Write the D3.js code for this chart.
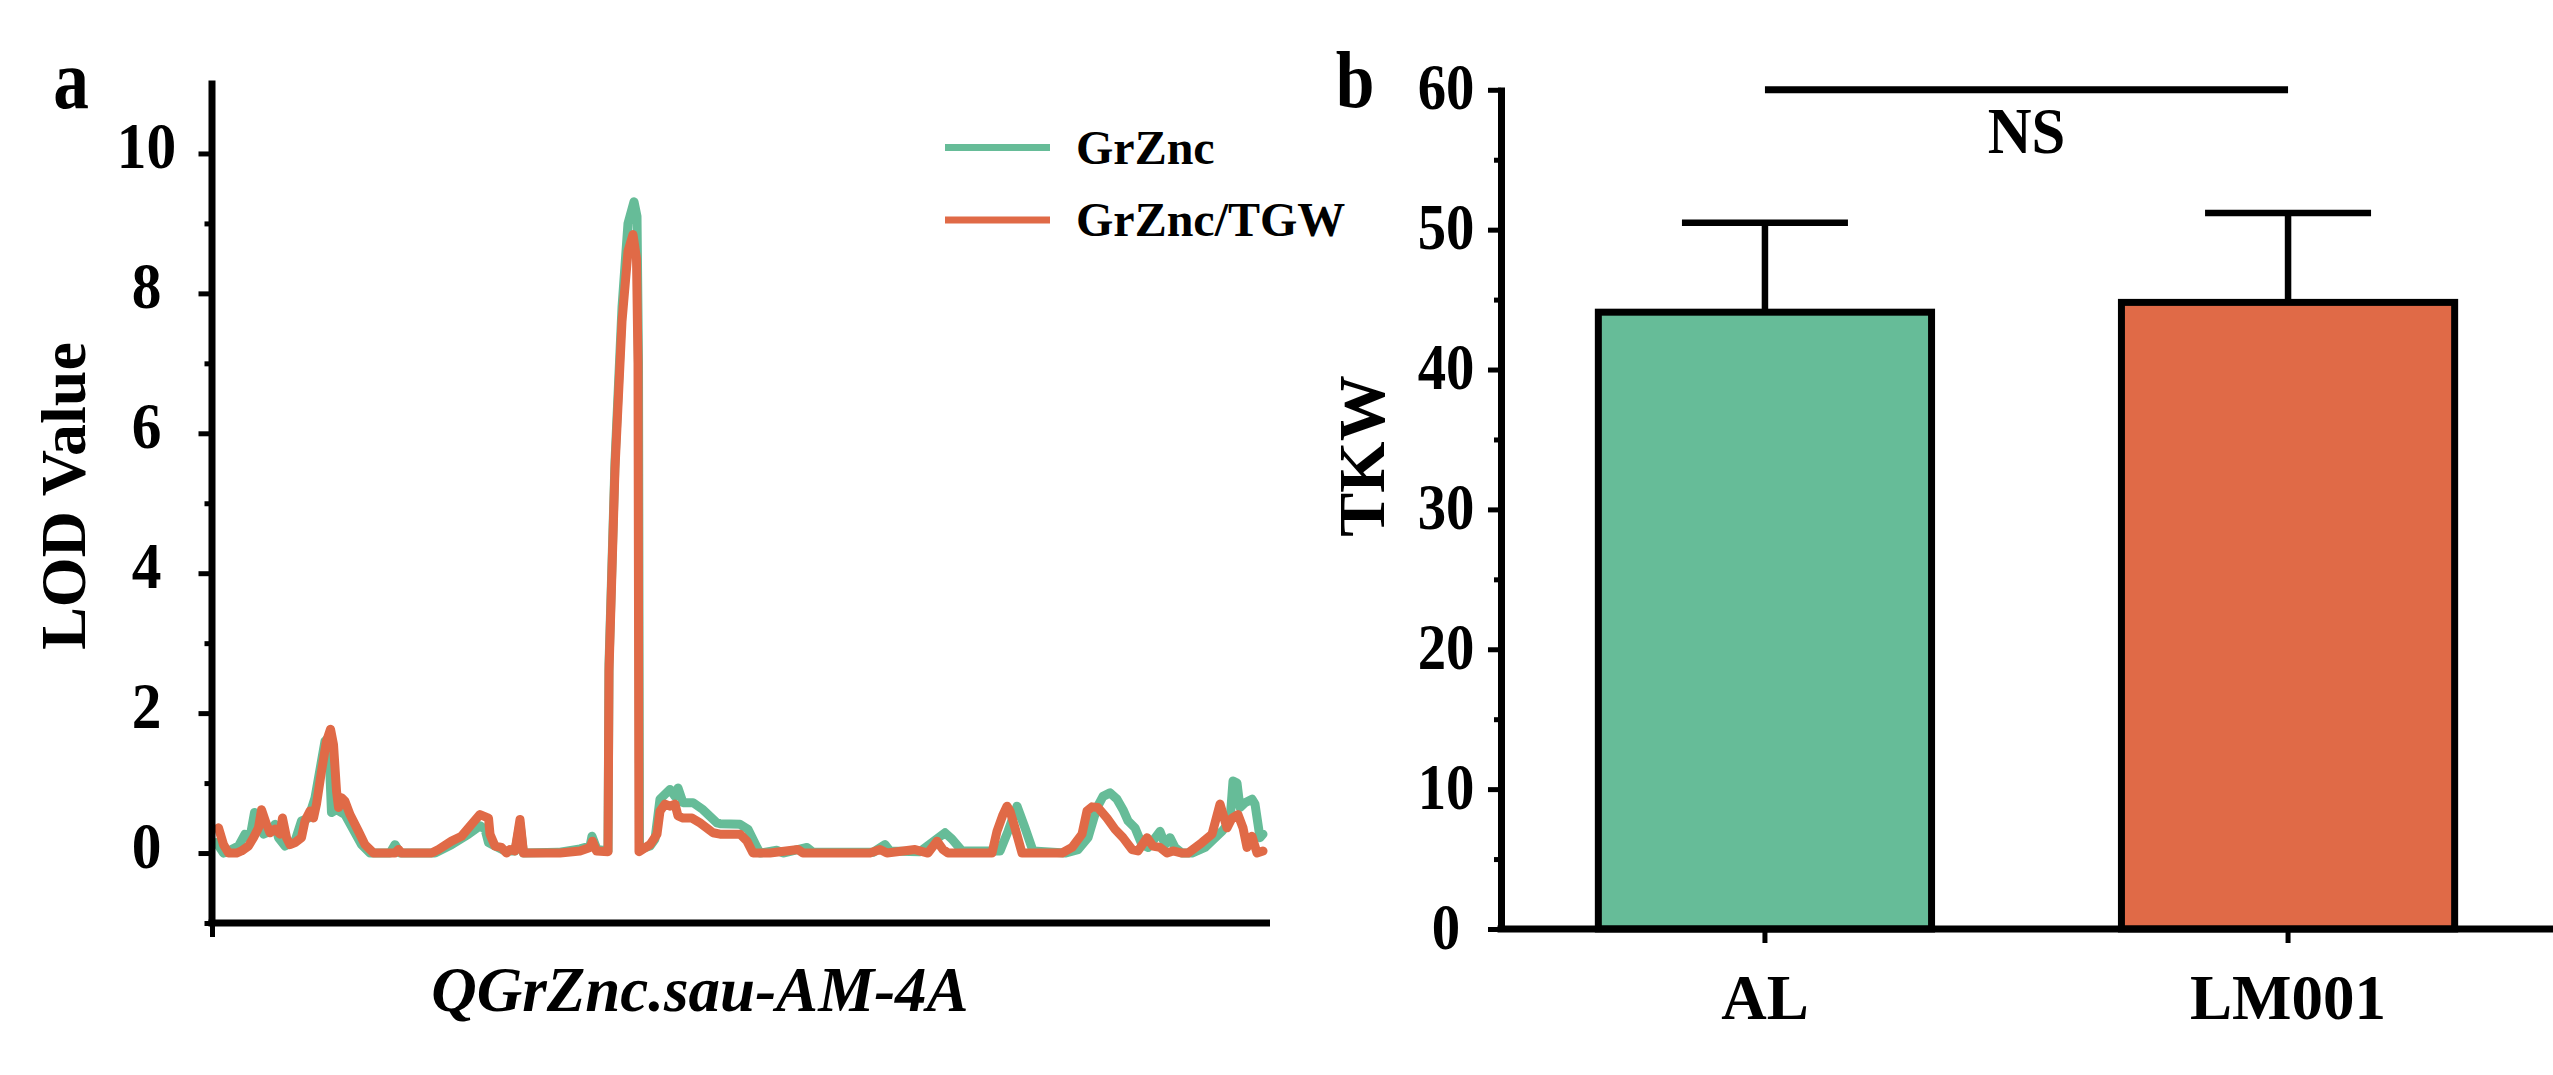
<!DOCTYPE html>
<html>
<head>
<meta charset="utf-8">
<script src="https://cdn.jsdelivr.net/npm/d3@7"></script>
<style>
  body { margin: 0; background: #fff; }
  text { font-family: "Liberation Serif", "Times New Roman", serif; font-weight: bold; fill: #000; }
</style>
</head>
<body>
<div id="chart"></div>
<script>
// panel a: LOD profiles along the chromosome (position in arbitrary cM-like units)
var grZncPos = [0.9, 2.3, 3.9, 5.3, 6.6, 7.6, 8.5, 9.3, 10.3, 11.6, 12.6, 13.3, 14.6, 16.6, 17.9, 19.3, 20.6, 22.6, 23.3, 23.9, 24.9, 26.6, 29.9, 31.6, 35.6, 36.6, 37.6, 44.6, 47.9, 51.3, 53.6, 54.6, 55.3, 56.6, 58.6, 60.6, 61.6, 62.3, 69.3, 73.6, 75.6, 76.0, 77.0, 79.2, 79.4, 80.6, 82.0, 83.2, 84.4, 85.0, 85.3, 85.5, 87.6, 88.6, 89.6, 91.6, 92.6, 93.2, 94.2, 96.2, 98.2, 101.0, 101.6, 105.6, 107.2, 109.0, 109.6, 113.0, 114.2, 119.0, 120.2, 132.2, 134.6, 135.6, 141.6, 146.6, 148.0, 150.0, 157.6, 159.2, 161.0, 162.6, 164.2, 170.6, 173.2, 175.2, 177.0, 178.2, 179.6, 181.0, 182.2, 183.2, 184.6, 186.0, 187.2, 189.6, 190.6, 191.6, 192.6, 194.0, 196.0, 198.6, 202.0, 203.6, 204.2, 205.0, 205.6, 206.6, 208.0, 208.6, 209.6, 210.2];
var grZncLod = [0.15, 0, 0.05, 0.10, 0.27, 0.22, 0.58, 0.55, 0.27, 0.31, 0.41, 0.22, 0.10, 0.17, 0.46, 0.50, 0.79, 1.60, 1.65, 0.58, 0.62, 0.55, 0.12, 0, 0, 0.12, 0, 0, 0.12, 0.27, 0.39, 0.34, 0.15, 0.10, 0.03, 0.03, 0.42, 0, 0.01, 0.06, 0.10, 0.24, 0.05, 0.03, 2.7, 5.6, 7.8, 9.0, 9.31, 9.1, 7.0, 0.05, 0.10, 0.20, 0.77, 0.91, 0.81, 0.93, 0.72, 0.72, 0.62, 0.43, 0.42, 0.41, 0.34, 0.08, 0, 0.04, 0, 0.08, 0.01, 0.01, 0.12, 0.03, 0.02, 0.29, 0.20, 0.03, 0.03, 0.31, 0.67, 0.36, 0.03, 0, 0.05, 0.22, 0.65, 0.81, 0.86, 0.77, 0.62, 0.46, 0.36, 0.12, 0.08, 0.31, 0.12, 0.22, 0.08, 0, 0, 0.08, 0.31, 0.46, 1.03, 1.00, 0.65, 0.72, 0.77, 0.70, 0.22, 0.27];

var ratioPos = [1.3, 2.3, 3.3, 4.9, 5.9, 7.3, 8.3, 9.3, 9.9, 10.9, 11.6, 12.6, 13.6, 14.1, 14.9, 15.6, 16.6, 17.9, 18.6, 19.6, 20.3, 20.9, 21.9, 22.9, 23.7, 24.3, 24.9, 25.3, 25.9, 26.6, 27.6, 29.3, 30.6, 32.3, 36.6, 37.3, 37.9, 43.9, 45.3, 47.9, 49.9, 51.9, 53.6, 55.3, 55.6, 56.6, 57.9, 58.9, 59.6, 60.6, 61.6, 62.3, 69.6, 73.6, 75.6, 76.1, 76.9, 79.2, 79.4, 80.6, 82.0, 83.2, 84.2, 84.9, 85.2, 85.4, 87.6, 89.0, 89.6, 90.6, 91.6, 92.6, 93.2, 94.2, 96.0, 97.6, 100.2, 101.6, 105.6, 107.0, 108.2, 111.6, 117.2, 118.2, 131.6, 133.6, 135.0, 140.6, 143.2, 145.0, 146.2, 147.2, 156.0, 157.0, 158.2, 159.0, 159.6, 160.6, 162.0, 170.0, 172.0, 174.0, 175.0, 176.0, 177.2, 179.0, 180.6, 182.2, 184.0, 185.2, 187.0, 188.2, 189.6, 191.0, 192.2, 194.0, 195.2, 198.0, 200.0, 201.6, 203.0, 204.0, 205.2, 206.2, 207.0, 208.0, 209.0, 210.2];
var ratioLod = [0.36, 0.12, 0, 0, 0.03, 0.10, 0.22, 0.36, 0.62, 0.41, 0.29, 0.34, 0.27, 0.50, 0.22, 0.12, 0.15, 0.22, 0.46, 0.60, 0.50, 0.70, 1.17, 1.60, 1.77, 1.55, 0.89, 0.65, 0.79, 0.74, 0.55, 0.31, 0.12, 0, 0, 0.05, 0, 0, 0.05, 0.17, 0.24, 0.41, 0.55, 0.50, 0.27, 0.10, 0.08, 0, 0.05, 0.03, 0.48, 0, 0, 0.03, 0.08, 0.17, 0.03, 0.02, 2.6, 5.5, 7.6, 8.6, 8.84, 8.5, 7.0, 0.02, 0.12, 0.27, 0.60, 0.70, 0.67, 0.70, 0.53, 0.50, 0.50, 0.43, 0.29, 0.27, 0.27, 0.17, 0, 0, 0.05, 0, 0, 0.05, 0, 0.05, 0, 0.17, 0.05, 0, 0, 0.31, 0.55, 0.67, 0.60, 0.36, 0, 0, 0.08, 0.27, 0.60, 0.66, 0.65, 0.50, 0.34, 0.22, 0.05, 0.03, 0.22, 0.10, 0.08, 0, 0.03, 0, 0, 0.15, 0.27, 0.70, 0.36, 0.50, 0.55, 0.36, 0.08, 0.24, 0, 0.03];

var seriesNames = ["GrZnc", "GrZnc/TGW"];
var lodTicks = [0, 2, 4, 6, 8, 10];
var lodMinor = [-1, 1, 3, 5, 7, 9];
var locusName = "QGrZnc.sau-AM-4A";

// panel b: thousand kernel weight
var groups = ["AL", "LM001"];
var tkwMean = [44.1, 44.8];
var tkwSd = [6.4, 6.4];
var tkwTicks = [0, 10, 20, 30, 40, 50, 60];
var tkwMinor = [5, 15, 25, 35, 45, 55];
var sigLabel = "NS";

var green = "#66bc98", orange = "#e06a47";
var W = 2553, H = 1075;

var svg = d3.select("#chart").append("svg")
    .attr("width", W)
    .attr("height", H);

function styleAxis(g, textDx, textDy, sx, fs) {
    g.select(".domain").attr("stroke", "#000").attr("stroke-width", 7);
    g.selectAll(".tick line").attr("stroke", "#000").attr("stroke-width", 5);
    g.selectAll(".tick text")
        .attr("x", 0).attr("dy", null)
        .attr("text-anchor", "middle")
        .style("font-size", fs + "px")
        .attr("transform", "translate(" + textDx + "," + textDy + ") scale(" + sx + ",1)");
}

// ---------- panel a ----------
var xA = d3.scaleLinear().domain([0, 211.6]).range([212, 1270]);
var yA = d3.scaleLinear().domain([-1, 11.05]).range([923, 80]);

var lineA = d3.line()
    .x(function (d) { return xA(d[0]); })
    .y(function (d) { return yA(d[1]); });

var grZnc = grZncPos.map(function (p, i) { return [p, grZncLod[i]]; });
var ratio = ratioPos.map(function (p, i) { return [p, ratioLod[i]]; });

svg.append("path").datum(grZnc)
    .attr("d", lineA)
    .attr("fill", "none").attr("stroke", green)
    .attr("stroke-width", 9).attr("stroke-linejoin", "round").attr("stroke-linecap", "round");
svg.append("path").datum(ratio)
    .attr("d", lineA)
    .attr("fill", "none").attr("stroke", orange)
    .attr("stroke-width", 9).attr("stroke-linejoin", "round").attr("stroke-linecap", "round");

var gyA = svg.append("g").attr("transform", "translate(211.5,0)")
    .call(d3.axisLeft(yA).tickValues(lodTicks).tickSize(13).tickSizeOuter(0).tickFormat(d3.format("d")));
styleAxis(gyA, -65, 14, 0.9, 66);
svg.append("g").attr("transform", "translate(211.5,0)")
    .call(d3.axisLeft(yA).tickValues(lodMinor).tickSize(7).tickFormat(""))
    .call(function (g) {
        g.select(".domain").remove();
        g.selectAll(".tick line").attr("stroke", "#000").attr("stroke-width", 5);
    });

var gxA = svg.append("g").attr("transform", "translate(0," + yA(-1) + ")")
    .call(d3.axisBottom(xA).tickValues([0]).tickSize(14).tickSizeOuter(0).tickFormat(""));
gxA.select(".domain").attr("stroke", "#000").attr("stroke-width", 7).attr("d", "M208.5,0H1270");
gxA.selectAll(".tick line").attr("stroke", "#000").attr("stroke-width", 5);

svg.append("text")
    .attr("transform", "translate(85,496) rotate(-90)")
    .attr("text-anchor", "middle")
    .style("font-size", "64px")
    .text("LOD Value");

svg.append("text")
    .attr("x", 700).attr("y", 1011)
    .attr("text-anchor", "middle")
    .style("font-size", "63px").style("font-style", "italic")
    .text(locusName);

svg.append("text")
    .attr("transform", "translate(71,108) scale(0.85,1)")
    .attr("text-anchor", "middle")
    .style("font-size", "84px")
    .text("a");

var legend = svg.append("g");
[green, orange].forEach(function (c, i) {
    var ly = 147.5 + i * 72.5;
    legend.append("line")
        .attr("x1", 945).attr("x2", 1050).attr("y1", ly).attr("y2", ly)
        .attr("stroke", c).attr("stroke-width", 7);
    legend.append("text")
        .attr("x", 1076).attr("y", ly + 16)
        .style("font-size", "48px")
        .text(seriesNames[i]);
});

// ---------- panel b ----------
var xB = d3.scaleBand().domain(groups).range([1500, 2553])
    .paddingInner(0.363).paddingOuter(0.188);
var yB = d3.scaleLinear().domain([0, 60.2]).range([929, 87]);

svg.selectAll("rect.bar")
    .data(groups)
    .enter().append("rect")
    .attr("class", "bar")
    .attr("x", function (d) { return xB(d); })
    .attr("width", xB.bandwidth())
    .attr("y", function (d, i) { return yB(tkwMean[i]); })
    .attr("height", function (d, i) { return yB(0) - yB(tkwMean[i]); })
    .attr("fill", function (d, i) { return i === 0 ? green : orange; })
    .attr("stroke", "#000").attr("stroke-width", 7);

var err = svg.selectAll("g.err")
    .data(groups)
    .enter().append("g").attr("class", "err");
err.append("line")
    .attr("x1", function (d) { return xB(d) + xB.bandwidth() / 2; })
    .attr("x2", function (d) { return xB(d) + xB.bandwidth() / 2; })
    .attr("y1", function (d, i) { return yB(tkwMean[i]); })
    .attr("y2", function (d, i) { return yB(tkwMean[i] + tkwSd[i]); })
    .attr("stroke", "#000").attr("stroke-width", 6.5);
err.append("line")
    .attr("x1", function (d) { return xB(d) + xB.bandwidth() / 2 - 83; })
    .attr("x2", function (d) { return xB(d) + xB.bandwidth() / 2 + 83; })
    .attr("y1", function (d, i) { return yB(tkwMean[i] + tkwSd[i]); })
    .attr("y2", function (d, i) { return yB(tkwMean[i] + tkwSd[i]); })
    .attr("stroke", "#000").attr("stroke-width", 6.5);

var gyB = svg.append("g").attr("transform", "translate(1501,0)")
    .call(d3.axisLeft(yB).tickValues(tkwTicks).tickSize(13).tickSizeOuter(0).tickFormat(d3.format("d")));
styleAxis(gyB, -55, 19, 0.86, 66);
svg.append("g").attr("transform", "translate(1501,0)")
    .call(d3.axisLeft(yB).tickValues(tkwMinor).tickSize(7).tickFormat(""))
    .call(function (g) {
        g.select(".domain").remove();
        g.selectAll(".tick line").attr("stroke", "#000").attr("stroke-width", 5);
    });

var gxB = svg.append("g").attr("transform", "translate(0," + yB(0) + ")")
    .call(d3.axisBottom(xB).tickSize(14).tickSizeOuter(0));
gxB.select(".domain").attr("stroke", "#000").attr("stroke-width", 7).attr("d", "M1497.5,0H2553");
gxB.selectAll(".tick line").attr("stroke", "#000").attr("stroke-width", 5);
gxB.selectAll(".tick text")
    .attr("y", 90).attr("dy", null)
    .style("font-size", "63px");

// significance bar between the two group centres
svg.append("line")
    .attr("x1", xB(groups[0]) + xB.bandwidth() / 2)
    .attr("x2", xB(groups[1]) + xB.bandwidth() / 2)
    .attr("y1", yB(60)).attr("y2", yB(60))
    .attr("stroke", "#000").attr("stroke-width", 7);
svg.append("text")
    .attr("transform", "translate(" + ((xB(groups[0]) + xB(groups[1]) + xB.bandwidth()) / 2) + ",153) scale(0.92,1)")
    .attr("text-anchor", "middle")
    .style("font-size", "66px")
    .text(sigLabel);

svg.append("text")
    .attr("transform", "translate(1384,456) rotate(-90)")
    .attr("text-anchor", "middle")
    .style("font-size", "66px")
    .text("TKW");

svg.append("text")
    .attr("transform", "translate(1355,107) scale(0.87,1)")
    .attr("text-anchor", "middle")
    .style("font-size", "80px")
    .text("b");
</script>
</body>
</html>
